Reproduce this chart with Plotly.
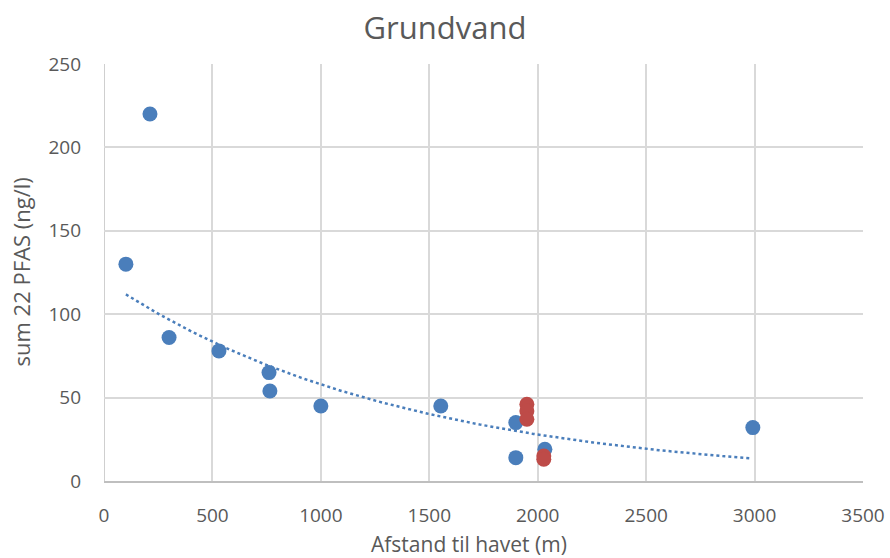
import numpy as np
import plotly.graph_objects as go

blue_x = [101, 212, 300, 530, 761, 765, 1000, 1553, 1899, 1899, 2033, 2992]
blue_y = [130, 220, 86, 78, 65, 54, 45, 45, 35, 14, 19, 32]
red_x = [1950, 1950, 1950, 2028, 2028]
red_y = [46, 42, 37, 15, 13]

x_ticks = [0, 500, 1000, 1500, 2000, 2500, 3000, 3500]
y_ticks = [0, 50, 100, 150, 200, 250]

# exponential trendline fitted on all points
ax_ = np.array(blue_x + red_x, float)
ay_ = np.array(blue_y + red_y, float)
b, lna = np.polyfit(ax_, np.log(ay_), 1)
tx = np.linspace(min(blue_x), 2978, 200)
ty = np.exp(lna) * np.exp(b * tx)

W, H = 890, 558
L, R, T, B = 104, 27, 64, 77
pw, ph = W - L - R, H - T - B
font = "Open Sans, sans-serif"
fig = go.Figure()
fig.add_trace(go.Scatter(x=tx, y=ty, mode="lines",
                         line=dict(color="#4a7ebb", width=2.5, dash="dot"),
                         hoverinfo="skip", showlegend=False))
fig.add_trace(go.Scatter(x=blue_x, y=blue_y, mode="markers",
                         marker=dict(color="#4a7ebb", size=15), showlegend=False))
fig.add_trace(go.Scatter(x=red_x, y=red_y, mode="markers",
                         marker=dict(color="#be4b48", size=15), showlegend=False))

fig.update_layout(
    width=W, height=H,
    margin=dict(l=L, r=R, t=T, b=B, autoexpand=False),
    paper_bgcolor="white", plot_bgcolor="white",
    title=dict(text="Grundvand", x=0.5, xref="container", xanchor="center",
               y=1 - 28 / H, yref="container", yanchor="middle",
               font=dict(family=font, size=31, color="#595959")),
    font=dict(family=font, size=19, color="#595959"),
)
fig.update_xaxes(range=[0, 3500], tickvals=x_ticks, showgrid=True, gridcolor="#d9d9d9",
                 gridwidth=1.5, zeroline=False, showline=True, linecolor="#bfbfbf", linewidth=1.5,
                 ticks="", ticklabelstandoff=16, automargin=False, ticklabeloverflow="allow")
fig.update_yaxes(range=[0, 250], tickvals=y_ticks, showgrid=True, gridcolor="#d9d9d9",
                 gridwidth=1.5, zeroline=False, showline=False, ticks="", ticklabelstandoff=22,
                 automargin=False, ticklabeloverflow="allow")
fig.add_shape(type="line", xref="x", yref="y", x0=0, x1=0, y0=0, y1=250,
              line=dict(color="#bfbfbf", width=1.5), layer="below")
fig.add_annotation(text="Afstand til havet (m)", xref="paper", yref="paper",
                   x=(469 - L) / pw, y=-(544 - (H - B)) / ph, xanchor="center", yanchor="middle",
                   showarrow=False, font=dict(size=21, color="#595959"))
fig.add_annotation(text="sum 22 PFAS (ng/l)", xref="paper", yref="paper",
                   x=-(L - 20) / pw, y=0.5, xanchor="center", yanchor="middle",
                   textangle=-90, showarrow=False, font=dict(size=22, color="#595959"))
fig.write_html("out.html")
